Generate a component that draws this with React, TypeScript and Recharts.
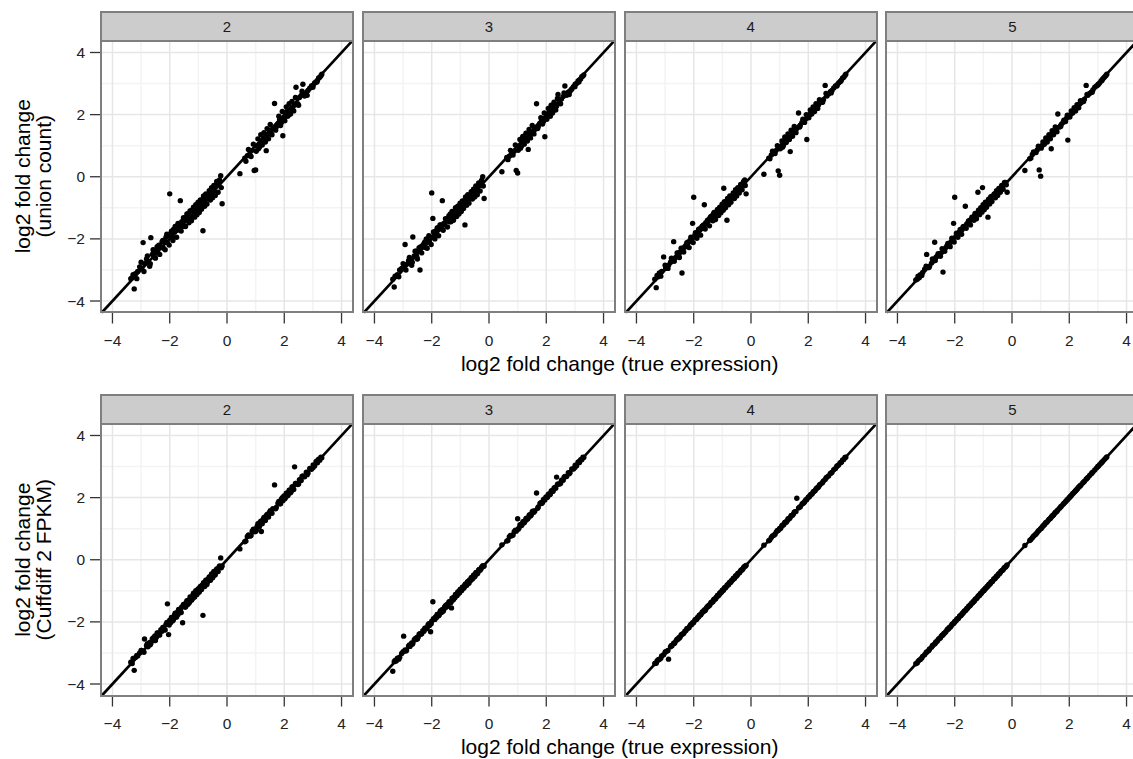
import React from 'react';
import { ScatterChart, Scatter, XAxis, YAxis, ReferenceLine } from 'recharts';

// true log2 fold change, shared by every panel (same genes)
const trueFC = [
  -3.36, -3.31, -3.24, -3.2, -3.12, -3.05, -2.98, -2.93, -2.88, -2.81,
  -2.76, -2.7, -2.66, -2.61, -2.55, -2.52, -2.47, -2.41, -2.38, -2.31,
  -2.27, -2.22, -2.19, -2.13, -2.08, -2.04, -2.0, -1.96, -1.91, -1.87,
  -1.83, -1.79, -1.74, -1.71, -1.66, -1.63, -1.58, -1.55, -1.5, -1.47,
  -1.43, -1.38, -1.35, -1.31, -1.27, -1.22, -1.19, -1.15, -1.11, -1.07,
  -1.03, -0.99, -0.95, -0.91, -0.87, -0.84, -0.8, -0.76, -0.72, -0.68,
  -0.64, -0.6, -0.56, -0.52, -0.48, -0.44, -0.39, -0.34, -0.28, -0.22,
  -0.17,
  0.45, 0.62, 0.71, 0.8, 0.88, 0.95, 1.0, 1.05, 1.1, 1.15,
  1.2, 1.26, 1.31, 1.37, 1.42, 1.48, 1.54, 1.6, 1.66, 1.72,
  1.78, 1.84, 1.9, 1.95, 1.99, 2.04, 2.09, 2.14, 2.19, 2.24,
  2.3, 2.36, 2.41, 2.47, 2.53, 2.59, 2.65, 2.71, 2.77, 2.83,
  2.89, 2.95, 3.01, 3.06, 3.11, 3.16, 3.2, 3.24, 3.28, 3.31,
  // second batch
  -3.28, -3.15, -3.0, -2.9, -2.78, -2.68, -2.58, -2.5, -2.44, -2.35,
  -2.24, -2.16, -2.1, -2.02, -1.94, -1.89, -1.81, -1.76, -1.69, -1.6,
  -1.52, -1.45, -1.4, -1.33, -1.29, -1.24, -1.17, -1.13, -1.09, -1.05,
  -1.01, -0.97, -0.93, -0.89, -0.82, -0.78, -0.74, -0.7, -0.62, -0.58,
  -0.54, -0.5, -0.46, -0.41, -0.36, -0.31, -0.26, -0.2,
  0.66, 0.75, 0.84, 0.92, 1.02, 1.08, 1.13, 1.18, 1.23, 1.29,
  1.34, 1.4, 1.45, 1.51, 1.57, 1.7, 1.81, 1.87, 1.93, 2.02,
  2.07, 2.12, 2.17, 2.22, 2.27, 2.33, 2.39, 2.5, 2.62, 2.8,
  3.0, 3.14,
];

// union count estimates, by number of replicates
const union2 = [
  -3.28, -3.25, -3.61, -3.12, -3.05, -2.9, -2.95, -2.12, -2.8, -2.65,
  -2.72, -2.88, -1.96, -2.5, -2.42, -2.6, -2.35, -2.45, -2.2, -2.25,
  -2.1, -2.3, -2.05, -1.95, -2.12, -1.9, -0.55, -1.82, -1.95, -1.7,
  -1.78, -1.6, -1.72, -1.5, -1.58, -0.77, -1.45, -1.6, -1.35, -1.42,
  -1.3, -1.4, -1.18, -1.25, -1.1, -1.3, -1.05, -1.12, -0.98, -1.2,
  -0.9, -1.05, -0.82, -0.95, -0.75, -1.74, -0.7, -0.85, -0.6, -0.72,
  -0.55, -0.62, -0.45, -0.58, -0.35, -0.48, -0.3, -0.25, -0.2, 0.03,
  -0.87,
  0.1, 0.6, 0.68, 0.72, 0.85, 0.2, 0.22, 0.98, 0.9, 1.05,
  1.1, 1.2, 1.25, 0.84, 1.35, 1.5, 1.4, 1.55, 2.36, 1.6,
  1.7, 1.85, 1.75, 1.32, 1.9, 1.95, 2.1, 1.98, 2.05, 2.2,
  2.15, 2.3, 2.88, 2.35, 2.55, 2.62, 2.98, 2.6, 2.7, 2.78,
  2.85, 2.92, 2.95, 3.02, 3.05, 3.1, 3.18, 3.2, 3.25, 3.3,
  -3.15, -3.28, -2.75, -3.05, -2.55, -2.8, -2.35, -2.62, -2.25, -2.5,
  -2.05, -2.35, -1.85, -2.2, -1.75, -2.05, -1.6, -1.95, -1.52, -1.75,
  -1.32, -1.6, -1.2, -1.48, -1.1, -1.42, -0.98, -1.3, -0.9, -1.22,
  -0.82, -1.15, -0.75, -1.05, -0.62, -0.95, -0.55, -0.88, -0.45, -0.75,
  -0.35, -0.68, -0.28, -0.6, -0.15, -0.5, -0.1, -0.35,
  0.5, 0.88, 0.65, 1.05, 0.82, 1.22, 0.95, 1.35, 1.02, 1.42,
  1.12, 1.55, 1.22, 1.68, 1.35, 1.5, 1.95, 1.65, 2.1, 1.8,
  2.25, 1.95, 2.35, 2.02, 2.42, 2.12, 2.55, 2.3, 2.75, 2.62,
  2.88, 3.05,
];
const union3 = [
  -3.3, -3.55, -3.2, -3.15, -3.0, -2.95, -2.92, -2.18, -2.82, -2.7,
  -2.68, -2.85, -1.94, -2.55, -2.4, -2.58, -2.38, -3.0, -2.25, -2.2,
  -2.15, -2.28, -2.0, -2.0, -2.1, -1.95, -0.52, -1.34, -1.9, -1.75,
  -1.75, -1.65, -1.68, -1.55, -1.6, -0.77, -1.5, -1.55, -1.38, -1.4,
  -1.35, -1.45, -1.2, -1.22, -1.15, -1.28, -1.1, -1.08, -1.0, -1.15,
  -0.95, -1.02, -0.85, -0.9, -0.78, -1.55, -0.72, -0.8, -0.62, -0.7,
  -0.58, -0.6, -0.48, -0.55, -0.38, -0.45, -0.32, -0.28, -0.22, 0.0,
  -0.7,
  0.16, 0.62, 0.66, 0.75, 0.82, 0.2, 0.12, 0.95, 0.92, 1.02,
  1.12, 1.18, 1.22, 0.88, 1.32, 1.45, 1.42, 1.52, 2.35, 1.62,
  1.72, 1.8, 1.78, 1.29, 1.88, 1.98, 2.05, 1.95, 2.08, 2.18,
  2.2, 2.28, 2.65, 2.38, 2.5, 2.58, 2.92, 2.62, 2.72, 2.75,
  2.82, 2.9, 2.98, 3.0, 3.08, 3.12, 3.15, 3.22, 3.24, 3.28,
  -3.2, -3.22, -2.8, -3.0, -2.6, -2.75, -2.4, -2.65, -2.28, -2.45,
  -2.1, -2.3, -1.9, -2.18, -1.78, -2.0, -1.65, -1.9, -1.55, -1.72,
  -1.35, -1.62, -1.25, -1.45, -1.12, -1.4, -1.0, -1.28, -0.95, -1.2,
  -0.85, -1.12, -0.78, -1.02, -0.65, -0.92, -0.58, -0.85, -0.48, -0.72,
  -0.4, -0.65, -0.3, -0.58, -0.2, -0.46, -0.12, -0.3,
  0.55, 0.85, 0.7, 1.02, 0.85, 1.2, 0.98, 1.3, 1.05, 1.4,
  1.15, 1.52, 1.25, 1.65, 1.38, 1.55, 1.9, 1.7, 2.05, 1.85,
  2.2, 1.98, 2.3, 2.05, 2.4, 2.15, 2.52, 2.35, 2.7, 2.65,
  2.9, 3.05,
];
const union4 = [
  -3.3, -3.57, -3.22, -3.1, -3.05, -2.58, -2.95, -2.9, -2.85, -2.75,
  -2.7, -2.09, -2.62, -2.58, -2.45, -2.5, -2.42, -3.1, -2.3, -2.25,
  -2.2, -2.25, -2.1, -2.05, -2.05, -1.5, -0.66, -1.88, -1.85, -1.8,
  -1.7, -1.7, -1.65, -1.6, -1.55, -0.9, -1.48, -1.5, -1.42, -1.38,
  -1.32, -1.35, -1.25, -1.2, -1.18, -1.25, -1.12, -1.1, -1.02, -1.05,
  -0.98, -1.0, -0.37, -0.88, -0.8, -1.4, -0.75, -0.78, -0.65, -0.66,
  -0.6, -0.58, -0.5, -0.52, -0.42, -0.45, -0.35, -0.3, -0.25, -0.1,
  -0.55,
  0.08, 0.6, 0.7, 0.76, 0.85, 0.19, 0.05, 0.98, 0.95, 1.08,
  1.15, 1.22, 1.25, 0.81, 1.38, 1.42, 1.5, 1.55, 2.05, 1.65,
  1.75, 1.82, 1.85, 1.2, 1.92, 2.0, 2.02, 2.08, 2.12, 2.2,
  2.25, 2.32, 2.45, 2.4, 2.48, 2.94, 2.6, 2.66, 2.74, 2.78,
  2.86, 2.92, 2.96, 3.02, 3.06, 3.12, 3.18, 3.2, 3.26, 3.3,
  -3.18, -3.2, -2.85, -2.95, -2.62, -2.72, -2.45, -2.6, -2.3, -2.42,
  -2.12, -2.28, -1.95, -2.12, -1.8, -1.98, -1.68, -1.88, -1.58, -1.68,
  -1.4, -1.58, -1.28, -1.42, -1.15, -1.38, -1.05, -1.25, -0.98, -1.16,
  -0.88, -1.08, -0.8, -1.0, -0.7, -0.9, -0.62, -0.82, -0.52, -0.7,
  -0.42, -0.62, -0.35, -0.52, -0.25, -0.42, -0.15, -0.28,
  0.58, 0.82, 0.75, 1.0, 0.9, 1.15, 1.0, 1.28, 1.1, 1.38,
  1.2, 1.5, 1.3, 1.62, 1.42, 1.6, 1.85, 1.75, 2.0, 1.9,
  2.15, 2.02, 2.25, 2.1, 2.35, 2.2, 2.48, 2.4, 2.68, 2.7,
  2.92, 3.08,
];
const union5 = [
  -3.32, -3.3, -3.25, -3.15, -3.08, -2.98, -2.5, -2.92, -2.88, -2.78,
  -2.72, -2.11, -2.6, -2.55, -2.5, -2.48, -2.45, -3.07, -2.35, -2.28,
  -2.22, -2.2, -2.15, -2.1, -2.02, -1.5, -0.66, -1.92, -1.85, -1.82,
  -1.78, -1.72, -1.7, -1.62, -1.6, -0.95, -1.52, -1.5, -1.45, -1.4,
  -1.38, -1.32, -1.3, -1.25, -1.2, -1.18, -0.5, -1.12, -1.05, -1.08,
  -0.35, -0.98, -0.92, -0.9, -0.82, -1.3, -0.78, -0.72, -0.68, -0.62,
  -0.62, -0.55, -0.52, -0.5, -0.45, -0.4, -0.38, -0.3, -0.26, -0.18,
  -0.5,
  0.2, 0.58, 0.72, 0.78, 0.86, 0.22, 0.02, 1.0, 1.05, 1.1,
  1.16, 1.24, 1.28, 0.9, 1.4, 1.45, 1.52, 2.02, 1.6, 1.68,
  1.75, 1.8, 1.88, 1.18, 1.95, 2.0, 2.05, 2.1, 2.15, 2.2,
  2.28, 2.34, 2.38, 2.45, 2.5, 2.94, 2.62, 2.68, 2.72, 2.8,
  2.88, 2.92, 2.98, 3.02, 3.08, 3.14, 3.18, 3.22, 3.26, 3.3,
  -3.2, -3.18, -2.88, -2.92, -2.65, -2.7, -2.48, -2.56, -2.32, -2.4,
  -2.15, -2.25, -1.98, -2.1, -1.82, -1.95, -1.7, -1.85, -1.6, -1.66,
  -1.42, -1.55, -1.3, -1.4, -1.18, -1.35, -1.08, -1.22, -1.0, -1.14,
  -0.9, -1.06, -0.82, -0.98, -0.72, -0.88, -0.64, -0.8, -0.55, -0.68,
  -0.45, -0.6, -0.38, -0.5, -0.28, -0.4, -0.18, -0.26,
  0.6, 0.8, 0.78, 0.98, 0.92, 1.12, 1.05, 1.25, 1.12, 1.35,
  1.22, 1.48, 1.35, 1.6, 1.45, 1.62, 1.82, 1.78, 1.98, 1.92,
  2.12, 2.05, 2.22, 2.12, 2.32, 2.22, 2.45, 2.42, 2.65, 2.72,
  2.95, 3.1,
];

// Cuffdiff 2 FPKM estimates, by number of replicates
const cuff2 = [
  -3.3, -3.34, -3.56, -3.15, -3.1, -3.0, -2.92, -2.95, -2.55, -2.76,
  -2.8, -2.66, -2.7, -2.55, -2.6, -2.45, -2.5, -2.36, -2.42, -2.25,
  -2.3, -2.18, -2.25, -2.08, -1.42, -2.41, -1.95, -2.02, -1.86, -1.92,
  -1.78, -1.85, -1.7, -1.76, -1.6, -1.68, -1.52, -2.03, -1.45, -1.52,
  -1.38, -1.45, -1.3, -1.36, -1.22, -1.28, -1.14, -1.2, -1.06, -1.12,
  -0.98, -1.05, -0.9, -0.96, -0.82, -1.79, -0.75, -0.8, -0.66, -0.72,
  -0.6, -0.66, -0.52, -0.56, -0.44, -0.5, -0.35, -0.38, -0.24, 0.06,
  -0.2,
  0.35, 0.58, 0.75, 0.76, 0.92, 0.9, 0.91, 1.08, 1.06, 1.2,
  0.91, 1.3, 1.27, 1.42, 1.38, 1.52, 1.5, 1.64, 2.41, 1.68,
  1.82, 1.8, 1.95, 1.9, 2.05, 2.0, 2.14, 2.1, 2.24, 2.2,
  2.35, 2.99, 2.46, 2.42, 2.58, 2.55, 2.7, 2.67, 2.82, 2.79,
  2.94, 2.91, 3.05, 3.02, 3.16, 3.12, 3.24, 3.2, 3.3, 3.28,
  -3.18, -3.08, -2.92, -2.98, -2.7, -2.74, -2.52, -2.6, -2.36, -2.42,
  -2.18, -2.26, -2.02, -2.1, -1.86, -1.96, -1.72, -1.84, -1.6, -1.7,
  -1.44, -1.52, -1.32, -1.4, -1.2, -1.3, -1.08, -1.2, -1.0, -1.12,
  -0.94, -1.04, -0.86, -0.96, -0.74, -0.86, -0.66, -0.8, -0.55, -0.66,
  -0.46, -0.58, -0.38, -0.48, -0.3, -0.38, -0.2, -0.26,
  0.6, 0.8, 0.78, 0.98, 0.95, 1.16, 1.06, 1.24, 1.16, 1.36,
  1.26, 1.46, 1.38, 1.58, 1.5, 1.64, 1.88, 1.8, 2.0, 1.96,
  2.14, 2.06, 2.24, 2.16, 2.34, 2.26, 2.46, 2.44, 2.68, 2.74,
  2.96, 3.18,
];
const cuff3 = [
  -3.59, -3.28, -3.26, -3.17, -3.14, -3.02, -2.46, -2.9, -2.91, -2.78,
  -2.79, -2.68, -2.69, -2.58, -2.57, -2.5, -2.49, -2.38, -2.4, -2.28,
  -2.3, -2.2, -2.22, -2.1, -2.12, -2.32, -1.98, -1.35, -1.92, -1.84,
  -1.86, -1.76, -1.78, -1.68, -1.7, -1.6, -1.61, -1.52, -1.53, -1.44,
  -1.46, -1.35, -1.38, -1.55, -1.3, -1.2, -1.22, -1.12, -1.14, -1.04,
  -1.06, -0.96, -0.98, -0.88, -0.9, -0.8, -0.83, -0.73, -0.75, -0.65,
  -0.67, -0.57, -0.59, -0.49, -0.51, -0.41, -0.43, -0.31, -0.3, -0.19,
  -0.2,
  0.48, 0.6, 0.74, 0.77, 0.9, 0.92, 1.32, 1.02, 1.13, 1.12,
  1.23, 1.24, 1.34, 1.34, 1.45, 1.45, 1.57, 1.57, 2.15, 1.7,
  1.81, 1.81, 1.93, 1.92, 2.02, 2.01, 2.12, 2.11, 2.22, 2.21,
  2.33, 2.66, 2.44, 2.44, 2.56, 2.56, 2.68, 2.68, 2.8, 2.8,
  2.92, 2.92, 3.04, 3.03, 3.14, 3.13, 3.22, 3.22, 3.3, 3.29,
  -3.24, -3.2, -2.96, -2.94, -2.74, -2.72, -2.54, -2.55, -2.4, -2.38,
  -2.2, -2.2, -2.06, -2.06, -1.9, -1.92, -1.76, -1.8, -1.64, -1.66,
  -1.48, -1.5, -1.36, -1.38, -1.24, -1.28, -1.12, -1.16, -1.04, -1.08,
  -0.96, -1.0, -0.88, -0.92, -0.78, -0.82, -0.7, -0.76, -0.58, -0.62,
  -0.5, -0.55, -0.42, -0.45, -0.33, -0.34, -0.24, -0.22,
  0.62, 0.78, 0.8, 0.95, 0.98, 1.12, 1.1, 1.21, 1.19, 1.32,
  1.3, 1.43, 1.41, 1.55, 1.53, 1.66, 1.84, 1.84, 1.96, 2.0,
  2.1, 2.09, 2.21, 2.2, 2.3, 2.3, 2.42, 2.46, 2.65, 2.77,
  2.97, 3.16,
];
const cuff4 = [
  -3.34, -3.33, -3.22, -3.21, -3.1, -3.06, -2.96, -2.94, -3.2, -2.8,
  -2.77, -2.69, -2.67, -2.6, -2.56, -2.51, -2.48, -2.4, -2.39, -2.3,
  -2.28, -2.21, -2.2, -2.12, -2.09, -2.03, -2.01, -1.95, -1.92, -1.86,
  -1.84, -1.78, -1.75, -1.7, -1.67, -1.62, -1.59, -1.54, -1.51, -1.46,
  -1.44, -1.37, -1.36, -1.3, -1.28, -1.21, -1.2, -1.14, -1.12, -1.06,
  -1.04, -0.98, -0.96, -0.9, -0.88, -0.83, -0.81, -0.75, -0.73, -0.67,
  -0.65, -0.59, -0.57, -0.51, -0.49, -0.43, -0.4, -0.33, -0.29, -0.21,
  -0.18,
  0.47, 0.61, 0.72, 0.79, 0.89, 0.94, 1.01, 1.04, 1.11, 1.14,
  1.21, 1.25, 1.32, 1.36, 1.43, 1.47, 1.55, 1.98, 1.67, 1.71,
  1.79, 1.83, 1.91, 1.94, 2.0, 2.03, 2.1, 2.13, 2.2, 2.23,
  2.31, 2.35, 2.42, 2.46, 2.54, 2.58, 2.66, 2.7, 2.78, 2.82,
  2.9, 2.94, 3.02, 3.05, 3.12, 3.15, 3.21, 3.23, 3.29, 3.3,
  -3.26, -3.17, -2.98, -2.92, -2.76, -2.7, -2.56, -2.52, -2.42, -2.37,
  -2.22, -2.18, -2.08, -2.04, -1.92, -1.91, -1.79, -1.78, -1.67, -1.63,
  -1.5, -1.47, -1.38, -1.35, -1.27, -1.26, -1.15, -1.15, -1.07, -1.06,
  -0.99, -0.99, -0.91, -0.9, -0.8, -0.8, -0.72, -0.72, -0.6, -0.6,
  -0.52, -0.52, -0.44, -0.43, -0.35, -0.33, -0.25, -0.21,
  0.64, 0.77, 0.82, 0.94, 1.0, 1.1, 1.12, 1.2, 1.21, 1.31,
  1.32, 1.42, 1.43, 1.53, 1.55, 1.69, 1.82, 1.86, 1.94, 2.03,
  2.08, 2.11, 2.18, 2.21, 2.28, 2.32, 2.4, 2.49, 2.63, 2.79,
  3.01, 3.13,
];
const cuff5 = [
  -3.35, -3.32, -3.23, -3.21, -3.11, -3.06, -2.97, -2.94, -2.87, -2.82,
  -2.75, -2.71, -2.65, -2.62, -2.54, -2.53, -2.46, -2.42, -2.37, -2.32,
  -2.26, -2.23, -2.18, -2.14, -2.07, -2.05, -1.99, -1.97, -1.9, -1.88,
  -1.82, -1.8, -1.73, -1.72, -1.65, -1.64, -1.57, -1.56, -1.49, -1.48,
  -1.42, -1.39, -1.34, -1.32, -1.26, -1.23, -1.18, -1.16, -1.1, -1.08,
  -1.02, -1.0, -0.94, -0.92, -0.86, -0.85, -0.79, -0.77, -0.71, -0.69,
  -0.63, -0.61, -0.55, -0.53, -0.47, -0.45, -0.38, -0.35, -0.27, -0.23,
  -0.17,
  0.46, 0.62, 0.71, 0.8, 0.88, 0.95, 1.0, 1.05, 1.1, 1.15,
  1.2, 1.26, 1.31, 1.37, 1.42, 1.48, 1.54, 1.6, 1.66, 1.72,
  1.78, 1.84, 1.9, 1.95, 1.99, 2.04, 2.09, 2.14, 2.19, 2.24,
  2.3, 2.36, 2.41, 2.47, 2.53, 2.59, 2.65, 2.71, 2.77, 2.83,
  2.89, 2.95, 3.01, 3.06, 3.11, 3.16, 3.2, 3.24, 3.28, 3.31,
  -3.27, -3.16, -2.99, -2.91, -2.77, -2.69, -2.57, -2.51, -2.43, -2.36,
  -2.23, -2.17, -2.09, -2.03, -1.93, -1.9, -1.8, -1.77, -1.68, -1.61,
  -1.51, -1.46, -1.39, -1.34, -1.28, -1.25, -1.16, -1.14, -1.08, -1.05,
  -1.0, -0.98, -0.92, -0.89, -0.81, -0.79, -0.73, -0.71, -0.61, -0.59,
  -0.53, -0.51, -0.45, -0.42, -0.35, -0.32, -0.25, -0.2,
  0.65, 0.76, 0.83, 0.93, 1.01, 1.09, 1.13, 1.19, 1.22, 1.3,
  1.33, 1.41, 1.44, 1.52, 1.56, 1.7, 1.81, 1.87, 1.93, 2.02,
  2.07, 2.13, 2.17, 2.22, 2.27, 2.34, 2.39, 2.5, 2.62, 2.8,
  3.0, 3.14,
];

const replicates = ['2', '3', '4', '5'];
const rowSeries = [
  [union2, union3, union4, union5],
  [cuff2, cuff3, cuff4, cuff5],
];
const rowTitles = [
  ['log2 fold change', '(union count)'],
  ['log2 fold change', '(Cuffdiff 2 FPKM)'],
];
const xTitle = 'log2 fold change (true expression)';
const majorTicks = [-4, -2, 0, 2, 4];
const minorTicks = [-3, -1, 1, 3];

const X_LIM = 4.4;
const Y_LIM = 4.37;

const PANEL_W = 252;
const PANEL_H = 271.5;
const FIRST_LEFT = 101;
const COL_STEP = 261.8;
const PLOT_TOPS = [40.5, 424];
const STRIP_H = 31;
const Y_AXIS_W = 60;
const X_AXIS_H = 46;

const FONT = '"Liberation Sans", Arial, Helvetica, sans-serif';
const BORDER = '#7f7f7f';

const fmt = (v: number) => String(v).replace('-', '\u2212');

const Dot = (p: any) => <circle cx={p.cx} cy={p.cy} r={2.7} fill="#000" />;

function Panel({ row, col }: { row: number; col: number }) {
  const ys = rowSeries[row][col];
  const data = trueFC.map((x, i) => ({ x, y: ys[i] }));
  const left = FIRST_LEFT + COL_STEP * col;
  const top = PLOT_TOPS[row];
  const showY = col === 0;
  const yw = showY ? Y_AXIS_W : 0;
  const tick = { fill: '#222', fontSize: 15.5, fontFamily: FONT };

  return (
    <>
      <div
        style={{
          position: 'absolute',
          left: left - 1,
          top: top - STRIP_H + 1,
          width: PANEL_W + 2,
          height: STRIP_H,
          boxSizing: 'border-box',
          border: `2px solid ${BORDER}`,
          background: '#cccccc',
          color: '#1a1a1a',
          fontSize: 15,
          display: 'flex',
          alignItems: 'center',
          justifyContent: 'center',
        }}
      >
        {replicates[col]}
      </div>
      <div style={{ position: 'absolute', left: left - yw, top }}>
        <ScatterChart
          width={PANEL_W + yw}
          height={PANEL_H + X_AXIS_H}
          margin={{ top: 0, right: 0, bottom: 0, left: 0 }}
        >
          <XAxis
            type="number"
            dataKey="x"
            domain={[-X_LIM, X_LIM]}
            ticks={majorTicks}
            interval={0}
            allowDataOverflow
            height={X_AXIS_H}
            axisLine={false}
            tickSize={11}
            tickMargin={11}
            tickLine={{ stroke: '#333', strokeWidth: 1.3 }}
            tick={tick}
            tickFormatter={fmt}
          />
          <YAxis
            type="number"
            dataKey="y"
            domain={[-Y_LIM, Y_LIM]}
            ticks={majorTicks}
            interval={0}
            allowDataOverflow
            hide={!showY}
            width={Y_AXIS_W}
            axisLine={false}
            tickSize={11}
            tickMargin={5}
            tickLine={{ stroke: '#333', strokeWidth: 1.3 }}
            tick={tick}
            tickFormatter={fmt}
          />
          {minorTicks.map((v) => (
            <ReferenceLine key={`mx${v}`} x={v} stroke="#f3f3f3" strokeWidth={1.5} />
          ))}
          {minorTicks.map((v) => (
            <ReferenceLine key={`my${v}`} y={v} stroke="#f3f3f3" strokeWidth={1.5} />
          ))}
          {majorTicks.map((v) => (
            <ReferenceLine key={`Mx${v}`} x={v} stroke="#e6e6e6" strokeWidth={1.5} />
          ))}
          {majorTicks.map((v) => (
            <ReferenceLine key={`My${v}`} y={v} stroke="#e6e6e6" strokeWidth={1.5} />
          ))}
          <ReferenceLine
            segment={[
              { x: -Y_LIM, y: -Y_LIM },
              { x: Y_LIM, y: Y_LIM },
            ]}
            stroke="#000"
            strokeWidth={2.6}
          />
          <Scatter data={data} shape={Dot} isAnimationActive={false} />
        </ScatterChart>
      </div>
      <div
        style={{
          position: 'absolute',
          left: left - 1,
          top: top - 1,
          width: PANEL_W + 2,
          height: PANEL_H + 2,
          boxSizing: 'border-box',
          border: `2px solid ${BORDER}`,
          pointerEvents: 'none',
        }}
      />
    </>
  );
}

export default function App() {
  const spanCenter = FIRST_LEFT + (COL_STEP * 3 + PANEL_W) / 2;
  return (
    <div
      style={{
        position: 'absolute',
        left: 0,
        top: 0,
        width: 1133,
        height: 759,
        overflow: 'hidden',
        background: '#fff',
        fontFamily: FONT,
      }}
    >
      {[0, 1].map((row) => [0, 1, 2, 3].map((col) => <Panel key={`${row}-${col}`} row={row} col={col} />))}
      <svg
        width={1133}
        height={759}
        style={{ position: 'absolute', left: 0, top: 0, pointerEvents: 'none' }}
        fontFamily={FONT}
        fontSize={21}
        fill="#000"
      >
        {PLOT_TOPS.map((t, row) => (
          <g key={row}>
            <text x={spanCenter} y={t + PANEL_H + 51} textAnchor="middle" dominantBaseline="central">
              {xTitle}
            </text>
            {rowTitles[row].map((line, i) => (
              <text
                key={i}
                transform={`translate(${22 + i * 21}, ${t + PANEL_H / 2}) rotate(-90)`}
                textAnchor="middle"
                dominantBaseline="central"
              >
                {line}
              </text>
            ))}
          </g>
        ))}
      </svg>
    </div>
  );
}
